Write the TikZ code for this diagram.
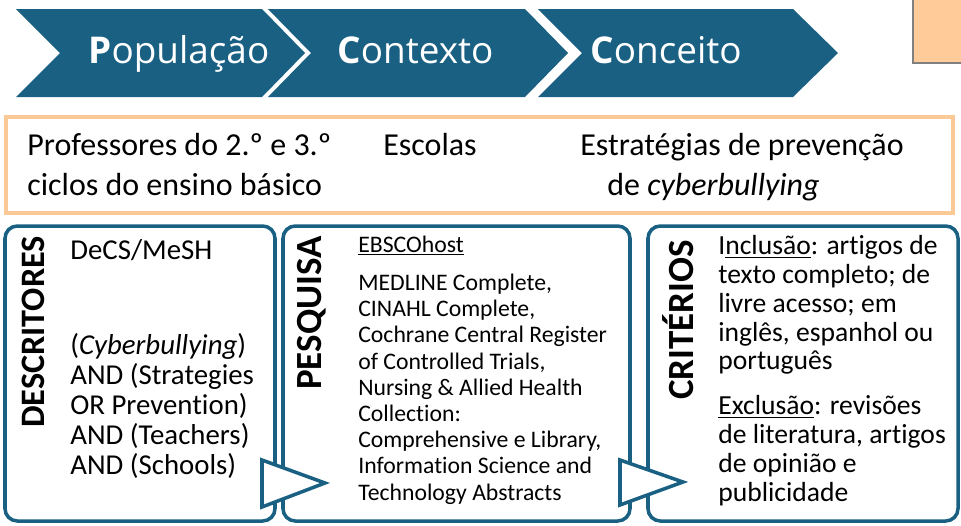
\documentclass[tikz,border=0pt]{standalone}
\usepackage{fontspec}
\setmainfont{Carlito}[Ligatures=NoCommon]
\newfontfamily\chevfont{Open Sans}

\definecolor{chevblue}{RGB}{25,96,131}
\definecolor{peachline}{RGB}{251,201,150}
\definecolor{peachfill}{RGB}{255,204,153}

\tikzset{
   chevron/.style={fill=chevblue},
   chevtext/.style={text=white,anchor=base west,inner sep=0pt,
      font=\chevfont\fontsize{21}{25}\selectfont},
   pictext/.style={anchor=base west,inner sep=0pt,
      font=\fontsize{18.2}{22.7}\selectfont},
   stepframe/.style={draw=chevblue,line width=2pt,rounded corners=7pt},
   sidelabel/.style={rotate=90,inner sep=0pt,font=\bfseries\fontsize{21}{25}\selectfont},
   boxtext/.style={anchor=base west,inner sep=0pt,align=left},
   flowtri/.style={fill=white,draw=chevblue,line width=2pt,line join=miter}
}

\begin{document}
\begin{tikzpicture}[x=0.02cm,y=-0.02cm]
            \useasboundingbox (0,0) rectangle (961,525);

            \fill [chevron] 
               (16,9) -- (262,9) -- (305,53) -- (262,97) -- (16,97) -- (60,53) -- cycle;
            \fill [chevron] 
               (268,9) -- (525,9) -- (568,53) -- (525,97) -- (268,97) -- (311,53) -- cycle;
            \fill [chevron] 
               (538,9) -- (793,9) -- (838,53) -- (793,97) -- (538,97) -- (582,53) -- cycle;
            \node [chevtext] (pop) at (88,63) {\textbf{P}opulação};
            \node [chevtext] (ctx) at (337,63) {\textbf{C}ontexto};
            \node [chevtext] (cnc) at (590,63) {\textbf{C}onceito};

            \fill [peachfill] (913,0) rectangle (961,63);
            \draw [gray,thick] (913,0) -- (913,63) -- (961,63);

            \draw [peachline,line width=2.8pt] (6,117) rectangle (953,213);
            \node [pictext] (popa) at (27,155) {Professores do 2.º e 3.º};
            \node [pictext] (popb) at (27,195) {ciclos do ensino básico};
            \node [pictext] (esc) at (383,155) {Escolas};
            \node [pictext] (esta) at (580,155) {Estratégias de prevenção};
            \node [pictext] (estb) at (607,195) {de \textit{cyberbullying}};

            \draw [stepframe] (5,226) rectangle (275,521);
            \draw [stepframe] (283,226) rectangle (630,521);
            \draw [stepframe] (648,226) rectangle (958,521);

            %\draw [flowtri] (255,460) -- (320,483) -- (255,507) -- cycle;
            \draw [flowtri] (262,460) -- (325,483) -- (262,507) -- cycle;
            \draw [flowtri] (620,460) -- (683,482) -- (620,505) -- cycle;

            \node [sidelabel,font=\bfseries\fontsize{19.5}{23}\selectfont] (desc) at (33,332) {DESCRITORES};
            \node [sidelabel] (pesq) at (312,313) {PESQUISA};
            \node [sidelabel] (crit) at (678,320) {CRITÉRIOS};

            \node [boxtext,font=\fontsize{16.4}{17}\selectfont] (desctxt) at (70,474) 
               {DeCS/MeSH\\[37pt]
                (\textit{Cyberbullying})\\
                AND (Strategies\\
                OR Prevention)\\
                AND (Teachers)\\
                AND (Schools)};
            \node [boxtext,font=\fontsize{13.5}{14.9}\selectfont] (pesqtxt) at (358,500) 
               {\underline{EBSCOhost}\\[7pt]
                MEDLINE Complete,\\
                CINAHL Complete,\\
                Cochrane Central Register\\
                of Controlled Trials,\\
                Nursing \& Allied Health\\
                Collection:\\
                Comprehensive e Library,\\
                Information Science and\\
                Technology Abstracts};
            \node [boxtext,font=\fontsize{15.7}{16.4}\selectfont] (crittxt) at (718,501) 
               {I\underline{nclusão}: artigos de\\
                texto completo; de\\
                livre acesso; em\\
                inglês, espanhol ou\\
                português\\[9pt]
                \underline{Exclusão}: revisões\\
                de literatura, artigos\\
                de opinião e\\
                publicidade};
         \end{tikzpicture}
\end{document}
